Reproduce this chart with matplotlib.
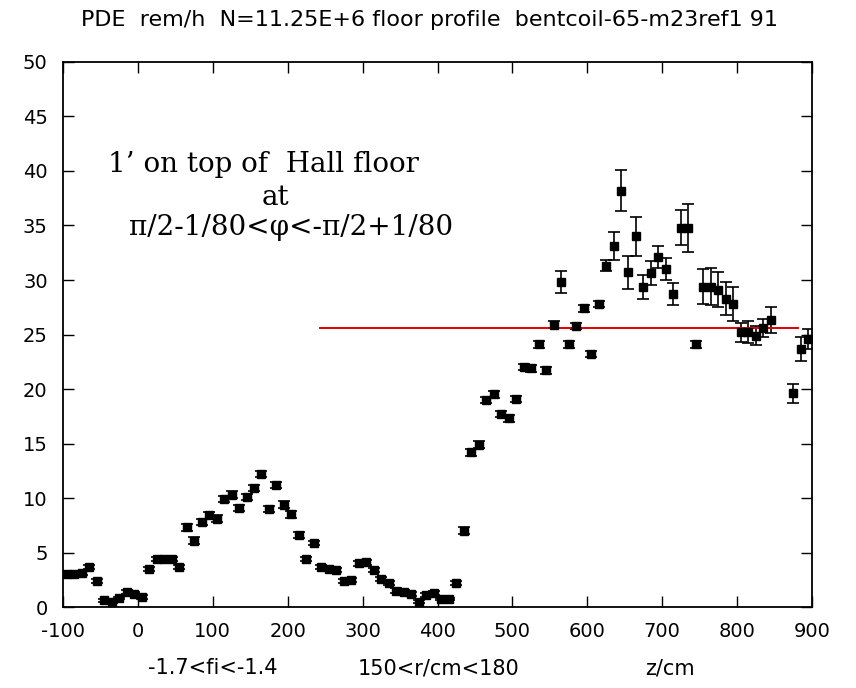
"""Floor dose profile (gnuplot-style) with a reference level line."""
import matplotlib
matplotlib.use("Agg")
import matplotlib.pyplot as plt
import numpy as np

# bin centres along z (cm)
z_cm = np.arange(-95, 900, 10)

dose = [
    3.0, 3.0, 3.1, 3.7, 2.4, 0.6, 0.5, 0.8, 1.4, 1.2,
    0.9, 3.5, 4.4, 4.4, 4.4, 3.7, 7.3, 6.1, 7.8, 8.4,
    8.1, 9.9, 10.3, 9.1, 10.1, 10.9, 12.2, 9.0, 11.2, 9.4,
    8.5, 6.6, 4.4, 5.9, 3.7, 3.5, 3.4, 2.4, 2.5, 4.0,
    4.1, 3.4, 2.6, 2.2, 1.5, 1.4, 1.2, 0.5, 1.1, 1.3,
    0.7, 0.7, 2.2, 7.0, 14.2, 14.9, 19.0, 19.5, 17.7, 17.3,
    19.1, 22.0, 21.9, 24.1, 21.7, 25.9, 29.8, 24.1, 25.8, 27.4,
    23.2, 27.8, 31.3, 33.1, 38.2, 30.7, 34.0, 29.4, 30.6, 32.1,
    31.0, 28.7, 34.8, 34.8, 24.1, 29.4, 29.4, 29.1, 28.3, 27.8,
    25.2, 25.2, 24.9, 25.6, 26.3, np.nan, np.nan, 19.6, 23.7, 24.6,
]

dose_err = [
    0.2, 0.2, 0.2, 0.2, 0.2, 0.1, 0.1, 0.1, 0.2, 0.2,
    0.2, 0.2, 0.2, 0.2, 0.2, 0.2, 0.3, 0.3, 0.3, 0.3,
    0.3, 0.3, 0.3, 0.3, 0.3, 0.3, 0.3, 0.3, 0.3, 0.3,
    0.3, 0.3, 0.2, 0.2, 0.2, 0.2, 0.2, 0.2, 0.2, 0.2,
    0.2, 0.2, 0.2, 0.2, 0.2, 0.2, 0.2, 0.1, 0.2, 0.2,
    0.1, 0.1, 0.2, 0.3, 0.3, 0.3, 0.3, 0.3, 0.3, 0.3,
    0.3, 0.3, 0.3, 0.3, 0.3, 0.3, 1.0, 0.3, 0.3, 0.3,
    0.3, 0.3, 0.5, 1.3, 1.9, 1.5, 1.8, 1.1, 1.1, 1.0,
    1.0, 1.0, 1.6, 2.2, 0.3, 1.6, 1.7, 1.6, 1.5, 1.6,
    0.9, 1.0, 0.9, 0.8, 1.2, 0.0, 0.0, 0.9, 1.1, 0.9,
]

ref_level = 25.6
ref_z = [243, 881]

title = "PDE  rem/h  N=11.25E+6 floor profile  bentcoil-65-m23ref1 91"
xlabel_parts = ["-1.7<fi<-1.4", "150<r/cm<180", "z/cm"]
note_lines = ["1\u2019 on top of  Hall floor", "at", "\u03c0/2-1/80<\u03c6<-\u03c0/2+1/80"]

plt.rcParams["font.family"] = ["DejaVu Sans"]
plt.rcParams["axes.unicode_minus"] = False

fig = plt.figure(figsize=(8.56, 6.88), dpi=100)
ax = fig.add_axes([0.0736, 0.1177, 0.875, 0.7922])

ax.errorbar(z_cm, dose, yerr=dose_err, fmt="s", color="black", ms=6,
            elinewidth=1.2, capsize=4.3, capthick=1.2)
ax.plot(ref_z, [ref_level, ref_level], color="#e00000", lw=1.4)

ax.set_xlim(-100, 900)
ax.set_ylim(0, 50)
ax.set_xticks(np.arange(-100, 901, 100))
ax.set_yticks(np.arange(0, 51, 5))
ax.tick_params(direction="in", length=8, width=1, top=True, right=True,
               labelsize=14, pad=11)
for sp in ax.spines.values():
    sp.set_linewidth(1.3)

# gnuplot-like x label made of three separately placed pieces
for txt, xf in zip(xlabel_parts, [0.248, 0.512, 0.783]):
    fig.text(xf, 0.029, txt, ha="center", va="center", fontsize=15)

fig.text(0.502, 0.971, title, ha="center", va="center", fontsize=16)

serif = "DejaVu Serif"
ax.text(0.060, 0.812, note_lines[0], transform=ax.transAxes, family=serif,
        fontsize=20, va="center")
ax.text(0.283, 0.752, note_lines[1], transform=ax.transAxes, family=serif,
        fontsize=20, va="center", ha="center")
ax.text(0.088, 0.696, note_lines[2], transform=ax.transAxes, family=serif,
        fontsize=20, va="center")

fig.savefig("out.png", dpi=100)
plt.close(fig)
